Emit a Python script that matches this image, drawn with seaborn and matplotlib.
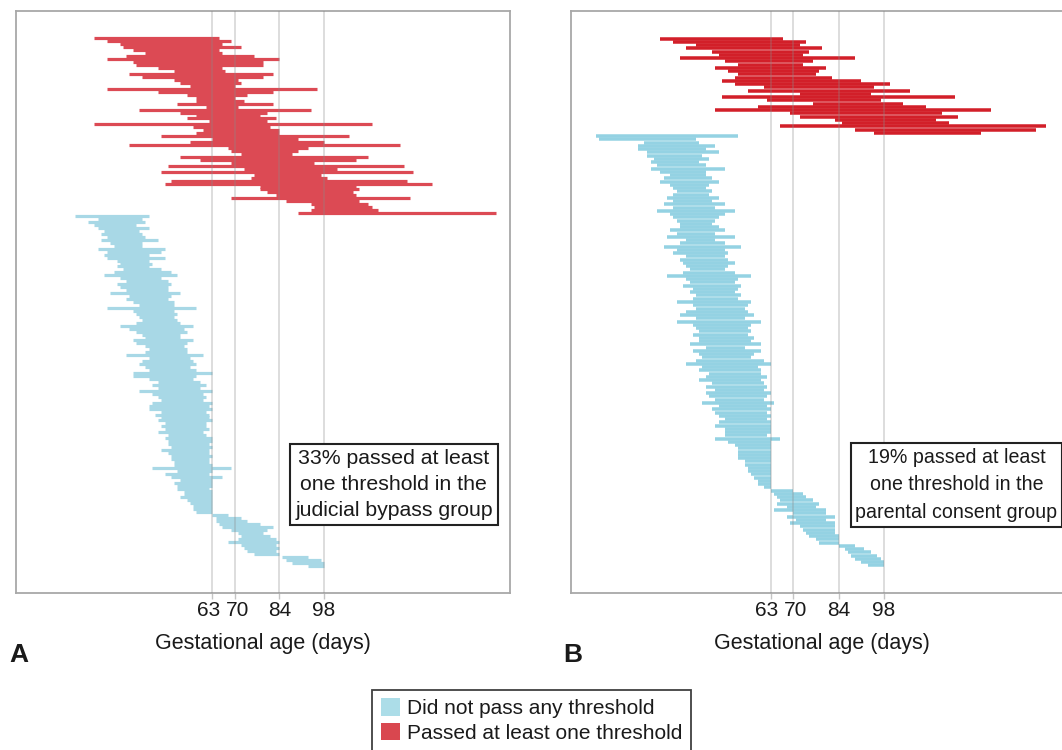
import matplotlib
matplotlib.use("Agg")
import matplotlib.pyplot as plt
import matplotlib.transforms as mtransforms
from matplotlib.patches import Patch
import pandas as pd
import seaborn as sns

# threshold lines / ticks (gestational age, days)
thresholds = [63, 70, 84, 98]
tick_labels = ["63", "70", "84", "98"]

# Panel A - judicial bypass group, one row per patient (start/end age in days)
a_red_start = [26, 30, 34, 35, 38, 42, 36, 30, 38, 39, 46, 51, 37, 41, 51, 53, 56, 30, 46, 55,
               58, 58, 52, 61, 40, 53, 58, 55, 62,
               26, 57, 60, 58, 47, 63, 56, 37, 68, 69, 72, 53, 59, 69, 49, 73, 47, 76, 75, 50,
               48, 78, 78, 80, 83, 69, 86, 94, 95, 94, 90]
a_red_end = [65, 69, 66, 72, 65, 66, 76, 84, 79, 79, 66, 67, 82, 79, 71, 72, 70, 96, 82, 74,
             70, 73, 82, 71, 94, 80, 78, 83, 80,
             113, 81, 84, 84, 106, 90, 98, 122, 93, 90, 88, 112, 108, 95, 123, 102, 126, 97, 99, 124,
             132, 108, 109, 107, 108, 125, 109, 112, 113, 115, 152]
a_blue_start = [20, 27, 24, 26, 27, 29, 28, 30, 28, 31, 32, 27, 30, 29, 30, 33, 34, 33, 35, 32,
                29, 34, 36, 33, 34, 36, 31, 37, 36, 38, 40, 30, 38, 39, 40, 41, 39, 34, 37, 39,
                41, 42, 38, 39, 42, 43, 42, 36, 43, 41, 40, 42, 43, 38,
                38, 43, 46, 44, 46, 40, 44, 46, 47, 44, 43, 43, 47, 45, 47, 46, 48, 47, 48, 46,
                49, 48, 49, 49, 50, 47, 49, 50, 50, 51, 51, 44, 52, 48, 50, 53, 51, 52, 52, 54,
                54, 53, 55, 56, 57, 57, 58, 63, 64, 64, 65, 66, 69, 71, 72, 71, 68, 72, 73, 74,
                76, 85, 86, 88, 93]
a_blue_end = [43, 41, 42, 39, 43, 40, 41, 42, 46, 41, 41, 48, 47, 43, 48, 43, 44, 43, 47, 50,
              52, 47, 49, 50, 49, 49, 53, 50, 49, 51, 51, 58, 51, 52, 51, 52, 53, 57, 54, 55,
              53, 53, 57, 55, 54, 55, 55, 60, 56, 57, 58, 56, 58, 63,
              58, 57, 59, 61, 59, 63, 60, 61, 60, 63, 62, 63, 61, 62, 62, 63, 61, 61, 62, 60,
              61, 63, 63, 62, 63, 62, 62, 63, 62, 62, 63, 69, 63, 62, 66, 63, 63, 63, 62, 63,
              63, 63, 63, 63, 63, 63, 63, 68, 72, 74, 78, 82, 80, 79, 81, 83, 84, 83, 84, 83,
              84, 93, 97, 98, 98]

# Panel B - parental consent group
b_red_start = [29, 33, 40, 37, 45, 47, 35, 49, 53, 46, 50, 53, 52, 48, 52, 61, 56, 72, 48, 62,
               76, 59, 46, 69, 72, 83, 85, 66, 89, 95]
b_red_end = [67, 74, 72, 79, 75, 73, 89, 76, 73, 80, 78, 77, 82, 91, 100, 95, 106, 94, 120, 97,
             104, 111, 131, 116, 121, 114, 118, 148, 145, 128]
b_blue_start = [9, 10, 24, 22, 22, 25, 25, 27, 26, 28, 26, 29, 32, 30, 29, 32, 33, 34, 33, 31,
                33, 30, 33, 28, 32, 33, 34, 35, 35, 32, 34, 31, 37, 35, 30, 34, 33, 37, 35, 36,
                37, 38, 36, 31, 37, 38, 36, 39, 38, 40, 39, 34, 39, 40, 37, 35, 40, 34, 39, 40,
                41, 39, 41, 41, 38, 43,
                39, 41, 42, 40, 37, 42, 41, 44, 43, 41, 45, 43, 46, 43, 44, 46, 42, 47, 45, 46,
                47, 49, 47, 46, 49, 49, 49, 46, 50, 52, 53, 53, 53, 53, 55, 55, 56, 56, 57, 58,
                59, 59, 61, 63, 64, 65, 66, 65, 68, 64, 70, 68, 71, 69, 72, 73, 74, 75, 77, 78,
                84, 86, 87, 88, 89, 91, 93]
b_blue_end = [53, 40, 41, 46, 43, 47, 42, 44, 41, 43, 49, 43, 43, 45, 47, 44, 43, 45, 44, 47,
              45, 49, 46, 52, 49, 47, 46, 45, 47, 49, 46, 52, 46, 49, 54, 49, 50, 49, 50, 52,
              50, 49, 52, 57, 53, 52, 54, 53, 52, 54, 53, 57, 56, 55, 56, 58, 55, 60, 57, 56,
              57, 56, 58, 57, 60, 55,
              60, 58, 57, 61, 63, 59, 60, 60, 62, 60, 61, 62, 61, 63, 62, 61, 64, 62, 63, 62,
              63, 62, 63, 63, 63, 63, 62, 66, 63, 63, 63, 63, 63, 63, 63, 63, 63, 63, 63, 63,
              63, 63, 63, 70, 73, 74, 76, 78, 77, 80, 80, 83, 80, 83, 83, 83, 83, 84, 84, 84,
              89, 92, 94, 96, 97, 98, 98]

notes = ["33% passed at least\none threshold in the\njudicial bypass group",
         "19% passed at least\none threshold in the\nparental consent group"]
legend_labels = ["Did not pass any threshold", "Passed at least one threshold"]

W, H = 1062, 750
sns.set_theme(style="white")
plt.rcParams["font.family"] = ["Liberation Sans", "DejaVu Sans"]
TXT = "#1a1a1a"

fig = plt.figure(figsize=(W / 100, H / 100), dpi=100)
ax_a = fig.add_axes([16 / W, 1 - 593 / H, 494 / W, 582 / H])
ax_b = fig.add_axes([571 / W, 1 - 593 / H, 502 / W, 582 / H])


def draw_panel(ax, red_s, red_e, blue_s, blue_e, red_col, blue_col, note, note_x, note_fs, note_ls):
    df = pd.DataFrame({
        "start": red_s + blue_s,
        "end": red_e + blue_e,
        "group": ["passed"] * len(red_s) + ["none"] * len(blue_s),
    })
    df["row"] = range(len(df))
    n = len(df)
    row_px = 530 / n
    pal = {"passed": red_col, "none": blue_col}
    for g, sub in df.groupby("group"):
        ax.hlines(sub["row"], sub["start"], sub["end"], colors=pal[g],
                  linewidth=row_px * 0.72 * 1.08, zorder=2)
    m = 26 / row_px
    ax.set_ylim(n - 0.5 + m, -0.5 - m)
    ax.set_xlim(1.4, 156.4)
    for t in thresholds:
        ax.axvline(t, color="#8a8a8a", alpha=0.35, lw=1.2, zorder=3)
    ax.set_yticks([])
    ax.set_xticks(thresholds)
    ax.set_xticklabels(tick_labels)
    ax.tick_params(axis="x", length=4, width=1, color="#c4c4c4", pad=2,
                   labelsize=15, labelcolor=TXT, bottom=True)
    labs = ax.get_xticklabels()
    for lab, dx in zip(labs, [-2.5, 2, 0, 0]):
        lab.set_transform(lab.get_transform() +
                          mtransforms.ScaledTranslation(dx / 72, 0, fig.dpi_scale_trans))
    for sp in ax.spines.values():
        sp.set_color("#a8a8a8")
        sp.set_linewidth(1.3)
    ax.set_xlabel("Gestational age (days)", fontsize=15.5, color=TXT, labelpad=9)
    ax.text(note_x, 0.186, note, transform=ax.transAxes, ha="center", va="center",
            fontsize=note_fs, color=TXT, linespacing=note_ls, zorder=5,
            bbox=dict(boxstyle="square,pad=0.25", fc="white", ec="#222222", lw=1.5))


draw_panel(ax_a, a_red_start, a_red_end, a_blue_start, a_blue_end,
           "#dc4a54", "#a8d8e6", notes[0], 0.765, 15.3, 1.45)
draw_panel(ax_b, b_red_start, b_red_end, b_blue_start, b_blue_end,
           "#d21f29", "#94d2e3", notes[1], 0.768, 14.1, 1.58)

fig.text(19 / W, 1 - 655 / H, "A", fontsize=19, fontweight="bold", color=TXT,
         ha="center", va="center")
fig.text(573 / W, 1 - 655 / H, "B", fontsize=19, fontweight="bold", color=TXT,
         ha="center", va="center")

handles = [Patch(facecolor="#acdde8", edgecolor="none", label=legend_labels[0]),
           Patch(facecolor="#d9474f", edgecolor="none", label=legend_labels[1])]
leg = fig.legend(handles=handles, loc="upper center", bbox_to_anchor=(531.5 / W, 1 - 690 / H),
                 frameon=True, fancybox=False, edgecolor="#111111", fontsize=15,
                 handlelength=0.9, handleheight=0.9, handletextpad=0.35,
                 labelspacing=0.22, borderpad=0.4, borderaxespad=0)
leg.get_frame().set_linewidth(1.3)
for t in leg.get_texts():
    t.set_color(TXT)

fig.savefig("out.png", dpi=100)
